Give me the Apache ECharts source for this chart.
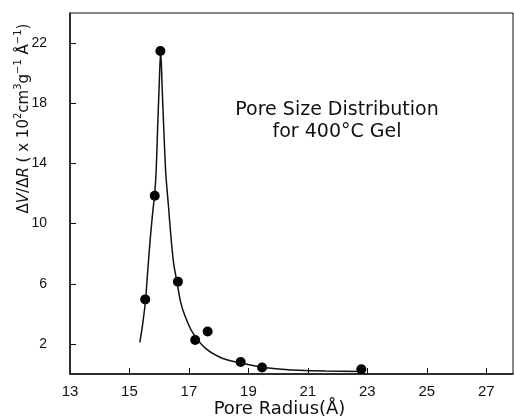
<!DOCTYPE html>
<html>
<head>
<meta charset="utf-8">
<script src="https://cdn.jsdelivr.net/npm/echarts@6/dist/echarts.min.js"></script>
<style>html,body{margin:0;padding:0;background:#fff}#c{width:514px;height:420px}</style>
</head>
<body>
<div id="c"></div>
<script>
// Measured points (pore radius Å, dV/dR)
const pointX = [15.53, 15.85, 16.04, 16.63, 17.21, 17.63, 18.74, 19.46, 22.8];
const pointY = [4.96, 11.85, 21.47, 6.14, 2.26, 2.82, 0.80, 0.43, 0.32];
// Fitted curve
const curveX = [15.35, 15.45, 15.54, 15.62, 15.70, 15.78, 15.85, 15.90, 15.95, 16.00, 16.05, 16.10, 16.15, 16.22, 16.31, 16.40, 16.49, 16.60, 16.72, 16.86, 17.11, 17.56, 18.12, 18.71, 19.46, 20.14, 20.70, 21.60, 22.80];
const curveY = [2.1, 3.4, 4.9, 7.0, 9.0, 10.7, 12.0, 13.6, 16.5, 19.2, 21.5, 19.0, 16.5, 13.4, 11.2, 9.0, 7.3, 6.1, 4.8, 3.9, 2.8, 1.7, 1.05, 0.75, 0.45, 0.32, 0.25, 0.2, 0.17];
const xTickLabels = [13, 15, 17, 19, 21, 23, 25, 27];
const xTicks = [15, 17, 19, 21, 23, 25, 27];
const yTickLabels = [2, 6, 10, 14, 18, 22];

const chart = echarts.init(document.getElementById('c'));
const tickFont = {fontFamily: 'Liberation Sans', fontSize: 15, color: '#111'};
chart.setOption({
  animation: false,
  backgroundColor: '#fff',
  grid: {left: 70, right: 1, top: 13, bottom: 46, show: true, borderColor: '#111', borderWidth: 1,
    containLabel: false, outerBoundsMode: 'none'},
  xAxis: {
    type: 'value', min: 13, max: 27.9,
    name: 'Pore Radius(Å)', nameLocation: 'middle', nameGap: 26, nameMoveOverlap: false,
    nameTextStyle: {fontFamily: 'DejaVu Sans', fontSize: 18, color: '#111', padding: [0, 24, 0, 0]},
    axisLine: {show: true, onZero: false, lineStyle: {color: '#111', width: 1.5}},
    axisTick: {show: true, inside: true, length: 6, customValues: xTicks, lineStyle: {color: '#111'}},
    axisLabel: Object.assign({customValues: xTickLabels, margin: 10, showMaxLabel: true}, tickFont),
    splitLine: {show: false}
  },
  yAxis: {
    type: 'value', min: 0, max: 24,
    name: '{a|Δ}{i|V}{a|/Δ}{i|R}{a| ( x 10}{s|2}{a|cm}{s|3}{a|g}{s|−1}{a| Å}{s|−1}{a|)}',
    nameLocation: 'middle', nameGap: 38, nameRotate: 90, nameMoveOverlap: false,
    nameTextStyle: {
      padding: [0, 0, 0, 150],
      rich: {
        a: {fontFamily: 'DejaVu Sans', fontSize: 15, color: '#111', lineHeight: 19, verticalAlign: 'bottom'},
        i: {fontFamily: 'DejaVu Sans', fontSize: 15, fontStyle: 'italic', color: '#111', lineHeight: 19, verticalAlign: 'bottom'},
        s: {fontFamily: 'DejaVu Sans', fontSize: 10, color: '#111', lineHeight: 19, verticalAlign: 'top'}
      }
    },
    axisLine: {show: true, onZero: false, lineStyle: {color: '#111', width: 1.5}},
    axisTick: {show: true, inside: true, length: 6, customValues: yTickLabels, lineStyle: {color: '#111'}},
    axisLabel: Object.assign({customValues: yTickLabels, margin: 23}, tickFont, {fontSize: 14}),
    splitLine: {show: false}
  },
  graphic: [{
    type: 'text', x: 337, y: 121,
    style: {text: 'Pore Size Distribution\nfor 400°C Gel', fontFamily: 'DejaVu Sans', fontSize: 19, lineHeight: 22,
      fill: '#111', align: 'center', verticalAlign: 'middle'}
  }],
  series: [{
    type: 'line', data: curveX.map((x, i) => [x, curveY[i]]),
    showSymbol: false, smooth: 0.3,
    lineStyle: {color: '#111', width: 1.5}
  }, {
    type: 'scatter', data: pointX.map((x, i) => [x, pointY[i]]),
    symbol: 'circle', symbolSize: 10, itemStyle: {color: '#000', opacity: 1}
  }]
});
</script>
</body>
</html>
